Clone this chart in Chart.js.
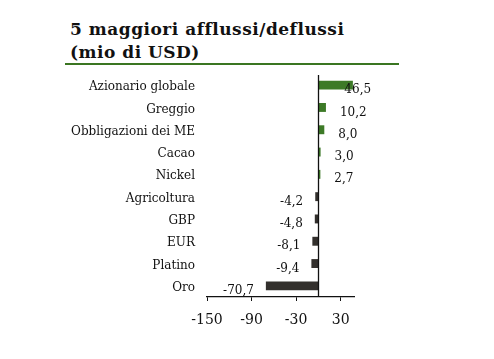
<!DOCTYPE html>
<html>
<head>
<meta charset="utf-8">
<script src="https://cdn.jsdelivr.net/npm/chart.js@4/dist/chart.umd.min.js"></script>
<style>
  html, body { margin: 0; padding: 0; background: #fff; }
  #wrap { position: relative; width: 494px; height: 359px; overflow: hidden; }
  #title { position: absolute; left: 70px; top: 18px; font-family: "DejaVu Serif", serif; font-weight: bold; font-size: 17px; line-height: 23px; letter-spacing: 0.5px; color: #111; white-space: nowrap; }
  #rule { position: absolute; left: 65px; top: 63px; width: 334px; height: 2px; background: #3a7521; }
  canvas { position: absolute; left: 0; top: 0; }
</style>
</head>
<body>
<div id="wrap">
  <div id="title">5 maggiori afflussi/deflussi<br>(mio di USD)</div>
  <div id="rule"></div>
  <canvas id="c" width="494" height="359"></canvas>
</div>
<script>
const categories = ["Azionario globale", "Greggio", "Obbligazioni dei ME", "Cacao", "Nickel", "Agricoltura", "GBP", "EUR", "Platino", "Oro"];
const flows = [46.5, 10.2, 8.0, 3.0, 2.7, -4.2, -4.8, -8.1, -9.4, -70.7];
const valueLabels = ["46,5", "10,2", "8,0", "3,0", "2,7", "-4,2", "-4,8", "-8,1", "-9,4", "-70,7"];
const xTicks = [-150, -90, -30, 30];

const GREEN = "#3d7a27";
const DARK = "#33302d";
const SERIF = '"DejaVu Serif", serif';

const labelPlugin = {
  id: "valueLabels",
  afterDatasetsDraw(chart) {
    const ctx = chart.ctx;
    const meta = chart.getDatasetMeta(0);
    const xs = chart.scales.x;
    const zero = xs.getPixelForValue(0);
    ctx.save();
    ctx.font = "12px " + SERIF;
    ctx.fillStyle = "#111";
    ctx.textBaseline = "middle";
    meta.data.forEach((bar, i) => {
      const v = flows[i];
      const y = bar.y + 5;
      if (v >= 0) {
        ctx.textAlign = "left";
        ctx.fillText(valueLabels[i], Math.min(bar.x + 14, zero + 26), y);
      } else {
        ctx.textAlign = "right";
        ctx.fillText(valueLabels[i], bar.x - 12, y);
      }
    });
    ctx.restore();
  }
};

const zeroLinePlugin = {
  id: "zeroLine",
  afterDatasetsDraw(chart) {
    const ctx = chart.ctx;
    const xs = chart.scales.x;
    const x = Math.round(xs.getPixelForValue(0)) + 0.5;
    ctx.save();
    ctx.strokeStyle = "#111";
    ctx.lineWidth = 1.3;
    ctx.beginPath();
    ctx.moveTo(x, chart.chartArea.top + 1);
    ctx.lineTo(x, chart.chartArea.bottom);
    ctx.stroke();
    ctx.restore();
  }
};

new Chart(document.getElementById("c"), {
  type: "bar",
  data: {
    labels: categories,
    datasets: [{
      data: flows,
      backgroundColor: flows.map(v => v >= 0 ? GREEN : DARK),
      borderWidth: 0,
      barPercentage: 0.4,
      categoryPercentage: 1.0
    }]
  },
  options: {
    indexAxis: "y",
    responsive: false,
    animation: false,
    devicePixelRatio: 1,
    layout: { padding: { top: 74, right: 140, left: 0, bottom: 0 } },
    plugins: { legend: { display: false }, tooltip: { enabled: false } },
    scales: {
      x: {
        min: -150,
        max: 48,
        afterBuildTicks(scale) { scale.ticks = xTicks.map(v => ({ value: v })); },
        afterFit(scale) { scale.height = 62; },
        grid: { drawOnChartArea: false, drawTicks: true, tickLength: 4, color: "#111", lineWidth: 1 },
        border: { display: true, color: "#111", width: 1.3 },
        ticks: { color: "#111", font: { family: SERIF, size: 14 }, padding: 11, maxRotation: 0 }
      },
      y: {
        afterFit(scale) { scale.width = 207; },
        grid: { display: false, drawTicks: false },
        border: { display: false },
        ticks: { color: "#111", font: { family: SERIF, size: 12 }, padding: 12, labelOffset: 2 }
      }
    }
  },
  plugins: [labelPlugin, zeroLinePlugin]
});
</script>
</body>
</html>
